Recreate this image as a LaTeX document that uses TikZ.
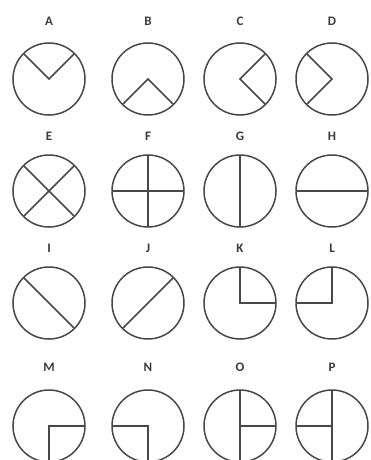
\documentclass[tikz,border=0pt]{standalone}
\usepackage{fontspec}
\setmainfont{Carlito}
\definecolor{ink}{HTML}{484848}
\definecolor{lab}{HTML}{3A3A3A}
\tikzset{
  ring/.style={circle, draw=ink, line width=1.5pt, minimum size=72pt, inner sep=0pt, outer sep=0pt},
  seg/.style={draw=ink, line width=1.5pt, line cap=butt},
  lbl/.style={font=\bfseries\fontsize{13}{14}\selectfont, text=lab, inner sep=0pt}
}
\begin{document}
\begin{tikzpicture}[x=1pt,y=1pt]
\useasboundingbox (0,0) rectangle (371,-460);
% row 1
\node[lbl] (lA) at (49,-21) {A};
\node[lbl] (lB) at (148,-21) {B};
\node[lbl] (lC) at (240,-21) {C};
\node[lbl] (lD) at (332,-21) {D};
\node[ring] (A) at (49,-79) {};
\node[ring] (B) at (148,-79) {};
\node[ring] (C) at (240,-79) {};
\node[ring] (D) at (332,-79) {};
\draw[seg] (A.135) -- (A.center) -- (A.45);
\draw[seg] (B.225) -- (B.center) -- (B.315);
\draw[seg] (C.45) -- (C.center) -- (C.315);
\draw[seg] (D.135) -- (D.center) -- (D.225);
% row 2
\node[lbl] (lE) at (49,-136) {E};
\node[lbl] (lF) at (148,-136) {F};
\node[lbl] (lG) at (240,-136) {G};
\node[lbl] (lH) at (332,-136) {H};
\node[ring] (E) at (49,-191) {};
\node[ring] (F) at (148,-191) {};
\node[ring] (G) at (240,-191) {};
\node[ring] (H) at (332,-191) {};
\draw[seg] (E.135) -- (E.315);
\draw[seg] (E.45) -- (E.225);
\draw[seg] (F.north) -- (F.south);
\draw[seg] (F.west) -- (F.east);
\draw[seg] (G.north) -- (G.south);
\draw[seg] (H.west) -- (H.east);
% row 3
\node[lbl] (lI) at (49,-248) {I};
\node[lbl] (lJ) at (148,-248) {J};
\node[lbl] (lK) at (240,-248) {K};
\node[lbl] (lL) at (332,-248) {L};
\node[ring] (I) at (49,-303) {};
\node[ring] (J) at (148,-303) {};
\node[ring] (K) at (240,-303) {};
\node[ring] (L) at (332,-303) {};
\draw[seg] (I.135) -- (I.315);
\draw[seg] (J.225) -- (J.45);
\draw[seg] (K.north) -- (K.center) -- (K.east);
\draw[seg] (L.north) -- (L.center) -- (L.west);
% row 4
\node[lbl] (lM) at (49,-367) {M};
\node[lbl] (lN) at (148,-367) {N};
\node[lbl] (lO) at (240,-367) {O};
\node[lbl] (lP) at (332,-367) {P};
\node[ring] (M) at (49,-426) {};
\node[ring] (N) at (148,-426) {};
\node[ring] (O) at (240,-426) {};
\node[ring] (P) at (332,-426) {};
\draw[seg] (M.east) -- (M.center) -- (M.south);
\draw[seg] (N.west) -- (N.center) -- (N.south);
\draw[seg] (O.north) -- (O.south);
\draw[seg] (O.center) -- (O.east);
\draw[seg] (P.north) -- (P.south);
\draw[seg] (P.center) -- (P.west);
\end{tikzpicture}
\end{document}
